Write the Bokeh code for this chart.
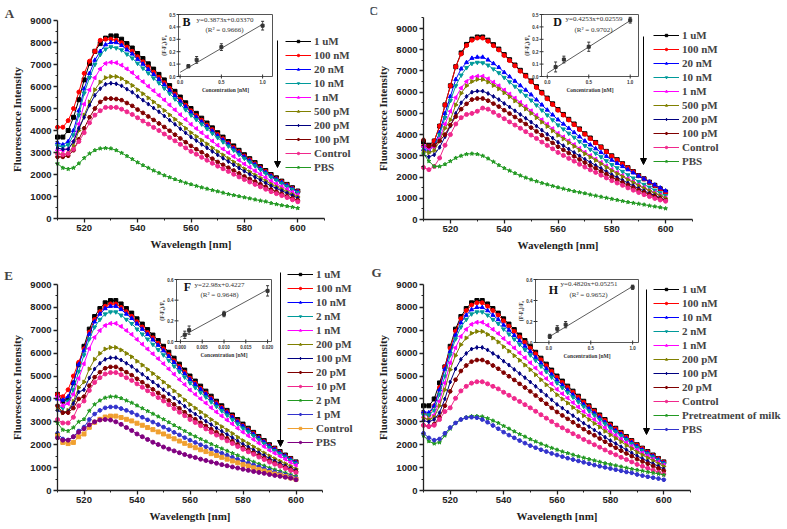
import math
from bokeh.plotting import figure
from bokeh.models import Range1d, LinearAxis, FixedTicker, Legend, LegendItem, Arrow, NormalHead, Label
from bokeh.layouts import row, column
from bokeh.embed import file_html
from bokeh.resources import INLINE
from bokeh.core.properties import value

# ---------------- data ----------------
wavelength = list(range(510, 601, 2))

x_major_ticks = [520, 540, 560, 580, 600]
x_minor_ticks = [510, 530, 550, 570, 590, 610]
y_major_ticks = [0, 1000, 2000, 3000, 4000, 5000, 6000, 7000, 8000, 9000]
y_minor_ticks = [500, 1500, 2500, 3500, 4500, 5500, 6500, 7500, 8500]
y_minor_ticks_c = [500, 1500, 2500, 3500, 4500, 5500, 6500, 7500, 8500, 9500]

# Panel A
A_labels = ["1 uM", "100 nM", "20 nM", "10 nM", "1 nM", "500 pM", "200 pM", "100 pM", "Control", "PBS"]
A_1uM = [3700,3700,4000,4600,5400, 6300,7050,7600,7950,8200,8300,8300,8150,7950,7750, 7500,7270,7030,6790,6550,6300,6040,5780,5520,5260, 5000,4780,4560,4340,4120,3900,3700,3500,3300,3100, 2900,2720,2540,2360,2180,2000,1850,1700,1550,1400, 1250]
A_100nM = [4150,4150,4450,5000,5750, 6600,7150,7600,8100,8150,8150,8100,7990,7790,7600, 7350,7120,6890,6650,6420,6170,5920,5660,5410,5150, 4900,4680,4470,4250,4040,3820,3630,3430,3230,3040, 2840,2670,2490,2310,2140,1960,1810,1670,1520,1370, 1230]
A_20nM = [3450,3350,3500,4000,4900, 5900,6600,7200,7600,7900,8000,8000,7870,7670,7480, 7240,7020,6780,6550,6320,6080,5830,5580,5330,5080, 4830,4610,4400,4190,3980,3760,3570,3380,3180,2990, 2800,2620,2450,2280,2100,1930,1790,1640,1500,1350, 1210]
A_10nM = [3300,3250,3350,3800,4700, 5700,6400,7000,7450,7700,7800,7750,7660,7470,7290, 7050,6830,6610,6380,6160,5920,5680,5430,5190,4940, 4700,4490,4290,4080,3870,3670,3480,3290,3100,2910, 2730,2560,2390,2220,2050,1880,1740,1600,1460,1320, 1180]
A_1nM = [3100,3100,3150,3500,4300, 5200,5850,6400,6800,7050,7100,7080,6970,6800,6630, 6410,6220,6010,5810,5600,5390,5160,4940,4720,4500, 4280,4090,3900,3710,3520,3330,3160,2990,2820,2650, 2480,2330,2170,2020,1860,1710,1580,1450,1330,1200, 1070]
A_500pM = [2950,2900,2950,3300,4000, 4700,5300,5850,6200,6400,6450,6450,6360,6200,6050, 5850,5670,5480,5300,5110,4910,4710,4510,4310,4100, 3900,3730,3560,3390,3210,3040,2890,2730,2570,2420, 2260,2120,1980,1840,1700,1560,1440,1330,1210,1090, 980]
A_200pM = [3200,3150,3150,3500,4100, 4600,5150,5600,5900,6100,6150,6120,6030,5880,5740, 5550,5380,5200,5020,4850,4660,4470,4280,4080,3890, 3700,3540,3370,3210,3050,2890,2740,2590,2440,2290, 2150,2010,1880,1750,1610,1480,1370,1260,1150,1040, 930]
A_100pM = [2800,2800,2850,3100,3600, 4100,4600,5000,5300,5450,5450,5430,5380,5250,5120, 4950,4800,4640,4480,4320,4160,3990,3810,3640,3470, 3300,3150,3010,2860,2720,2570,2440,2310,2180,2050, 1910,1800,1680,1560,1440,1320,1220,1120,1020,920, 830]
A_Control = [2950,2900,2950,3150,3500, 3900,4350,4700,4900,5050,5050,5050,4970,4850,4730, 4580,4430,4290,4140,4000,3840,3680,3530,3370,3210, 3050,2920,2780,2650,2510,2380,2260,2140,2010,1890, 1770,1660,1550,1440,1330,1220,1130,1040,950,850, 760]
A_PBS = [2500,2300,2250,2300,2500, 2750,2950,3100,3180,3200,3180,3100,2980,2840,2700, 2550,2420,2300,2180,2070,1960,1870,1780,1700,1620, 1550,1480,1410,1350,1290,1230,1170,1110,1060,1010, 960,910,860,810,770,700,650,600,560,520, 470]

# Panel C
C_labels = ["1 uM", "100 nM", "20 nM", "10 nM", "1 nM", "500 pM", "200 pM", "100 pM", "Control", "PBS"]
C_1uM = [3650,3500,3700,4400,5400, 6300,7200,7850,8250,8500,8600,8600,8450,8240,8030, 7770,7530,7280,7030,6790,6530,6260,5990,5720,5450, 5180,4950,4720,4500,4270,4040,3840,3630,3420,3210, 3000,2820,2630,2440,2260,2070,1920,1760,1610,1450, 1300]
C_100nM = [3450,3400,3700,4400,5400, 6300,7200,7800,8200,8450,8550,8550,8400,8190,7990, 7730,7490,7240,6990,6750,6490,6220,5950,5690,5420, 5150,4920,4690,4470,4240,4020,3810,3610,3400,3190, 2980,2800,2620,2430,2250,2060,1910,1750,1600,1440, 1250]
C_20nM = [3300,3250,3500,4100,5000, 5800,6600,7100,7400,7600,7650,7650,7520,7350,7170, 6930,6730,6520,6310,6100,5880,5640,5400,5160,4930, 4700,4500,4300,4100,3900,3700,3520,3340,3160,2980, 2800,2650,2500,2350,2200,2050,1910,1770,1630,1490, 1350]
C_10nM = [3400,3300,3450,4000,4800, 5600,6300,6800,7150,7350,7400,7380,7270,7090,6910, 6690,6480,6270,6050,5840,5620,5390,5150,4920,4690, 4450,4260,4060,3870,3670,3480,3300,3120,2950,2760, 2580,2430,2260,2100,1950,1780,1650,1520,1380,1250, 1120]
C_1nM = [3450,3350,3400,3800,4500, 5100,5750,6200,6500,6700,6750,6750,6630,6470,6300, 6100,5910,5720,5520,5330,5120,4910,4700,4490,4280, 4060,3890,3710,3530,3350,3170,3010,2850,2690,2520, 2360,2210,2070,1920,1780,1630,1510,1380,1260,1140, 1020]
C_500pM = [3200,3150,3250,3700,4300, 4700,5400,5950,6300,6500,6600,6600,6480,6320,6160, 5970,5780,5590,5400,5210,5010,4800,4590,4390,4180, 3970,3800,3620,3450,3270,3100,2940,2790,2630,2460, 2300,2160,2020,1870,1740,1590,1470,1350,1230,1120, 1000]
C_200pM = [3050,2950,3050,3400,3900, 4400,5000,5500,5800,6000,6050,6050,5940,5800,5650, 5470,5300,5120,4950,4770,4590,4400,4210,4020,3840, 3640,3480,3320,3160,3000,2840,2700,2550,2410,2260, 2110,1980,1850,1720,1590,1460,1350,1240,1130,1020, 910]
C_100pM = [3750,3450,3500,3700,4000, 4450,4850,5200,5450,5650,5700,5700,5600,5460,5320, 5150,4990,4830,4660,4500,4330,4150,3970,3790,3610, 3430,3280,3130,2980,2830,2680,2540,2410,2270,2130, 1990,1870,1740,1620,1500,1380,1280,1180,1080,980, 900]
C_Control = [2450,2350,2500,2900,3500, 4000,4500,4800,4950,5000,5100,5250,5200,5050,4900, 4750,4600,4450,4300,4140,3980,3820,3650,3490,3330, 3160,3020,2880,2750,2600,2470,2340,2220,2090,1960, 1830,1720,1610,1490,1380,1270,1170,1080,990,920, 860]
C_PBS = [3100,2750,2500,2500,2600, 2750,2900,3000,3080,3100,3080,3000,2870,2720,2560, 2420,2300,2180,2070,1970,1880,1800,1720,1650,1580, 1510,1450,1390,1330,1280,1230,1170,1120,1070,1020, 970,920,870,820,780,740,700,650,610,570, 520]

# Panel E
E_labels = ["1 uM", "100 nM", "10 nM", "2 nM", "1 nM", "200 pM", "100 pM", "20 pM", "10 pM", "2 pM", "1 pM", "Control", "PBS"]
E_1uM = [4200,3900,4000,4700,5500, 6300,7050,7600,7950,8200,8300,8300,8150,7950,7750, 7500,7270,7030,6790,6550,6300,6040,5780,5520,5260, 5000,4780,4560,4340,4120,3900,3700,3500,3300,3100, 2900,2720,2540,2360,2180,2000,1850,1700,1550,1400, 1250]
E_100nM = [4200,4100,4400,5000,5600, 6190,6920,7470,7810,8050,8150,8150,8000,7810,7610, 7370,7140,6900,6670,6430,6190,5930,5670,5420,5170, 4910,4690,4470,4260,4040,3830,3630,3440,3240,3040, 2840,2670,2490,2310,2140,1960,1820,1670,1520,1380, 1230]
E_10nM = [4000,3950,4100,4700,5500, 6110,6830,7370,7710,7950,8050,8050,7910,7710,7520, 7280,7050,6820,6580,6350,6110,5860,5600,5350,5100, 4850,4640,4420,4210,3990,3780,3590,3400,3200,3000, 2810,2640,2460,2290,2120,1940,1800,1650,1510,1360, 1220]
E_2nM = [3700,3600,3900,4400,5200, 5920,6620,7140,7470,7710,7800,7800,7660,7470,7290, 7050,6830,6610,6380,6150,5920,5680,5430,5190,4950, 4700,4490,4280,4080,3870,3670,3480,3290,3100,2910, 2720,2560,2390,2220,2050,1880,1740,1600,1460,1320, 1180]
E_1nM = [4100,3700,3800,4200,4900, 5540,6200,6690,6990,7210,7300,7300,7170,6990,6820, 6600,6390,6180,5970,5760,5540,5310,5080,4850,4630, 4390,4200,4010,3820,3620,3430,3260,3080,2910,2720, 2550,2390,2230,2070,1920,1760,1630,1500,1370,1230, 1100]
E_200pM = [3600,3400,3500,3900,4500, 4740,5310,5730,5990,6180,6250,6250,6140,5990,5840, 5650,5480,5290,5110,4930,4740,4550,4350,4160,3960, 3760,3600,3430,3270,3100,2940,2790,2640,2490,2330, 2180,2050,1910,1780,1640,1510,1390,1280,1170,1060, 940]
E_100pM = [3500,3400,3450,3800,4300, 4400,4920,5310,5560,5730,5800,5800,5700,5560,5420, 5240,5080,4910,4740,4580,4400,4220,4040,3860,3680, 3490,3340,3180,3030,2880,2730,2590,2450,2310,2160, 2020,1900,1770,1650,1530,1400,1290,1190,1080,980, 880]
E_20pM = [3700,3400,3400,3600,4000, 4100,4580,4950,5170,5340,5400,5400,5300,5170,5040, 4880,4730,4570,4420,4260,4100,3930,3760,3590,3420, 3250,3110,2960,2820,2680,2540,2410,2280,2150,2010, 1880,1770,1650,1530,1420,1300,1200,1110,1010,910, 820]
E_10pM = [3100,2950,2950,3200,3700, 3910,4370,4720,4930,5090,5150,5150,5060,4930,4810, 4660,4510,4360,4210,4060,3910,3750,3580,3420,3270, 3100,2970,2830,2690,2550,2420,2300,2170,2050,1920, 1800,1690,1580,1460,1350,1240,1150,1060,960,870, 780]
E_2pM = [2950,2650,2600,2750,3000, 3110,3480,3760,3930,4050,4100,4100,4030,3930,3830, 3710,3590,3470,3350,3230,3110,2980,2850,2730,2600, 2470,2360,2250,2140,2030,1930,1830,1730,1630,1530, 1430,1340,1250,1160,1080,990,910,840,770,690, 620]
E_1pM = [2500,2250,2200,2350,2600, 2770,3100,3340,3500,3610,3650,3650,3580,3500,3410, 3300,3200,3090,2990,2880,2770,2660,2540,2430,2310, 2200,2100,2000,1910,1810,1720,1630,1540,1450,1360, 1270,1200,1120,1040,960,880,810,750,680,620, 550]
E_Control = [2400,2100,2050,2100,2350, 2470,2760,2980,3110,3210,3250,3250,3190,3110,3040, 2940,2850,2750,2660,2560,2470,2370,2260,2160,2060, 1960,1870,1780,1700,1610,1530,1450,1370,1290,1210, 1130,1070,990,920,850,780,720,670,610,550, 490]
E_PBS = [2300,2200,2200,2350,2550, 2700,2870,3000,3080,3100,3080,3000,2890,2750,2620, 2470,2350,2230,2110,2010,1900,1810,1730,1650,1570, 1500,1440,1370,1310,1250,1190,1130,1080,1030,980, 930,880,830,790,750,700,660,620,580,540, 470]

# Panel G
G_labels = ["1 uM", "100 nM", "10 nM", "2 nM", "1 nM", "200 pM", "100 pM", "20 pM", "Control", "Pretreatment of milk", "PBS"]
G_1uM = [3700,3700,4000,4700,5400, 6300,7050,7600,7950,8200,8300,8300,8150,7950,7750, 7500,7270,7030,6790,6550,6300,6040,5780,5520,5260, 5000,4780,4560,4340,4120,3900,3700,3500,3300,3100, 2900,2720,2540,2360,2180,2000,1850,1700,1550,1400, 1250]
G_100nM = [3400,3300,3700,4500,5400, 6220,6960,7510,7860,8100,8200,8200,8050,7860,7660, 7410,7180,6950,6710,6470,6220,5970,5710,5450,5200, 4940,4720,4500,4290,4070,3850,3660,3460,3260,3060, 2860,2690,2510,2330,2160,1980,1830,1680,1530,1390, 1240]
G_10nM = [3450,3400,3700,4400,5300, 6070,6790,7330,7660,7900,8000,8000,7860,7660,7470, 7230,7010,6780,6540,6310,6070,5820,5570,5320,5070, 4820,4610,4390,4180,3970,3760,3570,3380,3180,2980, 2790,2620,2450,2270,2100,1930,1780,1640,1500,1350, 1210]
G_2nM = [3300,3300,3500,4200,5000, 5920,6620,7140,7470,7710,7800,7800,7660,7470,7290, 7050,6830,6610,6380,6150,5920,5680,5430,5190,4950, 4700,4490,4280,4080,3870,3670,3480,3290,3100,2910, 2720,2560,2390,2220,2050,1880,1740,1600,1460,1320, 1180]
G_1nM = [3200,3100,3300,3900,4700, 5580,6240,6730,7040,7260,7350,7350,7220,7040,6860, 6640,6440,6230,6010,5800,5580,5350,5120,4890,4660, 4420,4230,4040,3840,3650,3450,3280,3100,2930,2740, 2570,2410,2250,2090,1930,1770,1640,1510,1370,1240, 1110]
G_200pM = [3150,3100,3200,3700,4400, 5280,5900,6370,6660,6870,6950,6950,6820,6660,6490, 6280,6090,5890,5690,5480,5280,5060,4840,4620,4410, 4180,4000,3820,3630,3450,3270,3100,2930,2770,2590, 2430,2280,2130,1970,1830,1670,1550,1420,1300,1170, 1050]
G_100pM = [3050,3000,3100,3400,4000, 4740,5310,5730,5990,6180,6250,6250,6140,5990,5840, 5650,5480,5290,5110,4930,4740,4550,4350,4160,3960, 3760,3600,3430,3270,3100,2940,2790,2640,2490,2330, 2180,2050,1910,1780,1640,1510,1390,1280,1170,1060, 940]
G_20pM = [2850,2800,2900,3200,3700, 4330,4840,5220,5460,5630,5700,5700,5600,5460,5320, 5150,4990,4830,4660,4500,4330,4150,3970,3790,3610, 3430,3280,3130,2980,2830,2680,2540,2410,2270,2130, 1990,1870,1740,1620,1500,1370,1270,1170,1070,960, 860]
G_Control = [2850,2800,2850,3100,3450, 3610,4030,4350,4550,4690,4750,4750,4660,4550,4440, 4290,4160,4020,3890,3750,3610,3460,3310,3160,3010, 2860,2740,2610,2480,2360,2230,2120,2000,1890,1770, 1660,1560,1450,1350,1250,1140,1060,970,890,800, 720]
G_Pretreat = [2400,2150,2050,2100,2400, 2700,2950,3100,3200,3250,3250,3230,3150,3050,2950, 2820,2700,2580,2460,2350,2240,2140,2040,1950,1860, 1780,1700,1630,1560,1490,1430,1370,1310,1250,1190, 1140,1090,1040,990,940,900,860,810,770,730, 680]
G_PBS = [2500,2300,2200,2250,2500, 2750,2950,3100,3180,3200,3180,3100,2980,2840,2700, 2550,2420,2300,2180,2070,1960,1870,1780,1700,1620, 1550,1480,1410,1350,1290,1230,1170,1110,1060,1010, 960,910,860,810,770,700,650,600,560,520, 470]

# Insets (calibration)
B_conc = [0.1, 0.2, 0.5, 1.0]
B_resp = [0.083, 0.134, 0.237, 0.41]
B_err = [0.012, 0.027, 0.027, 0.035]
B_fit_x = [0.0, 1.0]
B_fit_y = [0.034, 0.421]
D_conc = [0.1, 0.2, 0.5, 1.0]
D_resp = [0.077, 0.137, 0.24, 0.454]
D_err = [0.04, 0.027, 0.037, 0.023]
D_fit_x = [0.0, 1.0]
D_fit_y = [0.026, 0.451]
F_conc = [0.001, 0.002, 0.01, 0.02]
F_resp = [0.065, 0.11, 0.266, 0.49]
F_err = [0.035, 0.04, 0.026, 0.05]
F_fit_x = [0.0, 0.02]
F_fit_y = [0.042, 0.502]
H_conc = [0.01, 0.1, 0.2, 1.0]
H_resp = [0.058, 0.13, 0.17, 0.526]
H_err = [0.02, 0.03, 0.03, 0.02]
H_fit_x = [0.0, 1.0]
H_fit_y = [0.0525, 0.5345]

ticks_01 = [0.0, 0.5, 1.0]
ticks_01_labels = ["0.0", "0.5", "1.0"]
ticks_05 = [0.0, 0.1, 0.2, 0.3, 0.4, 0.5]
ticks_05_labels = ["0.0", "0.1", "0.2", "0.3", "0.4", "0.5"]
ticks_06 = [0.0, 0.2, 0.4, 0.6]
ticks_06_labels = ["0.0", "0.2", "0.4", "0.6"]
ticks_002 = [0.0, 0.005, 0.01, 0.015, 0.02]
ticks_002_labels = ["0.000", "0.005", "0.010", "0.015", "0.020"]

# ---------------- styles ----------------
BLACK, RED, BLUE, TEAL = "#000000", "#ff0000", "#0000ff", "#009a9a"
MAGENTA, OLIVE, NAVY, WINE = "#ff00ff", "#808000", "#000080", "#800000"
PINK, GREEN, ROYAL, ORANGE, PURPLE = "#f0288c", "#229922", "#3333cc", "#f0a030", "#800080"
L, R = math.pi / 2, -math.pi / 2
base_styles = [(BLACK, "square", 0), (RED, "circle", 0), (BLUE, "triangle", 0), (TEAL, "inverted_triangle", 0),
               (MAGENTA, "triangle", L), (OLIVE, "triangle", R), (NAVY, "diamond", 0), (WINE, "hex", 0)]
A_styles = base_styles + [(PINK, "circle", 0), (GREEN, "star", 0)]
E_styles = base_styles + [(PINK, "circle", 0), (GREEN, "star", 0), (ROYAL, "hex", 0), (ORANGE, "square", 0), (PURPLE, "circle", 0)]
G_styles = base_styles + [(PINK, "circle", 0), (GREEN, "star", 0), (ROYAL, "hex", 0)]

SERIF = "Liberation Serif"
SANS = "Liberation Sans"
INK = "#222222"
PITCH = 14


class Geo:
    """Pixel geometry of one panel (picture coordinates)."""
    def __init__(self, ox, oy, W, H, px510, kx, py0, ky):
        self.ox, self.oy, self.W, self.H = ox, oy, W, H
        self.px510, self.kx, self.py0, self.ky = px510, kx, py0, ky

    def dx(self, px):
        return 510 + (px - self.px510) / self.kx

    def dy(self, py):
        return (self.py0 - py) / self.ky

    def fx(self, px):
        return px - self.ox

    def fy(self, py):
        return self.oy + self.H - py


def make_panel(g, y_bound, yminor, labels, data, styles, leg_pos, arrow, letter, letter_pos):
    p = figure(width=g.W, height=g.H,
               x_range=Range1d(g.dx(g.ox), g.dx(g.ox + g.W)),
               y_range=Range1d(g.dy(g.oy + g.H), g.dy(g.oy)),
               x_axis_type=None, y_axis_type=None, output_backend="svg", toolbar_location=None,
               min_border=0, min_border_left=0, min_border_right=0, min_border_top=0, min_border_bottom=0)
    p.outline_line_color = None
    p.background_fill_color = "white"
    p.border_fill_color = "white"

    xa = LinearAxis(ticker=FixedTicker(ticks=x_major_ticks, minor_ticks=x_minor_ticks),
                    bounds=(510, 610), axis_label="Wavelength [nm]", fixed_location=0)
    ya = LinearAxis(ticker=FixedTicker(ticks=y_major_ticks, minor_ticks=yminor),
                    bounds=(0, y_bound), axis_label="Fluorescence Intensity", fixed_location=510)
    for ax in (xa, ya):
        ax.axis_line_width = 1.3
        ax.axis_line_color = INK
        ax.major_tick_line_width = 1.3
        ax.major_tick_line_color = INK
        ax.minor_tick_line_width = 1
        ax.minor_tick_line_color = INK
        ax.major_tick_out = 4
        ax.major_tick_in = 0
        ax.minor_tick_out = 2
        ax.minor_tick_in = 0
        ax.major_label_text_font = SANS
        ax.major_label_text_font_style = "bold"
        ax.major_label_text_font_size = "9.5px"
        ax.major_label_text_color = INK
        ax.major_label_standoff = 2
        ax.axis_label_text_font = SERIF
        ax.axis_label_text_font_style = "bold"
        ax.axis_label_text_font_size = "11px"
        ax.axis_label_text_color = INK
        ax.axis_label_standoff = 4
    p.add_layout(xa, "below")
    p.add_layout(ya, "left")

    items = []
    for lab, ys, (col, mk, ang) in zip(labels, data, styles):
        r1 = p.line(wavelength, ys, line_color=col, line_width=1)
        r2 = p.scatter(wavelength, ys, marker=mk, size=4, fill_color=col, line_color=col, angle=ang)
        items.append(LegendItem(label=lab, renderers=[r1, r2]))
    n = len(labels)
    lx, first_y = leg_pos
    bottom = first_y - PITCH / 2 + n * PITCH
    leg = Legend(items=items, location=(g.fx(lx), g.fy(bottom)), glyph_width=26, glyph_height=6,
                 label_height=PITCH, spacing=0, padding=0, margin=0, label_standoff=3,
                 border_line_alpha=0, background_fill_alpha=0,
                 label_text_font=SERIF, label_text_font_style="bold", label_text_font_size="11px",
                 label_text_line_height=1.0)
    p.add_layout(leg)

    apx, apy0, apy1 = arrow
    p.add_layout(Arrow(end=NormalHead(size=6, line_color="black", fill_color="black"),
                       x_start=g.dx(apx), y_start=g.dy(apy0), x_end=g.dx(apx), y_end=g.dy(apy1),
                       line_width=1, line_color="black"))
    p.add_layout(Label(x=g.fx(letter_pos[0]), y=g.fy(letter_pos[1]), x_units="screen", y_units="screen",
                       text=letter, text_font=SERIF, text_font_style="bold", text_font_size="13px",
                       text_align="center", text_baseline="middle"))
    return p


def add_inset(p, g, box, xr, yr, conc, resp, err, fit_x, fit_y, xt, xtl, yt, ytl,
              letter, letter_pos, eq1, eq1_pos, eq2, eq2_pos):
    fx0, fx1, fy0, fy1 = g.ox, g.ox + g.W, g.oy, g.oy + g.H
    bx0, bx1, by0, by1 = box
    ix0, ix1 = xr
    iy0, iy1 = yr
    sx = (ix1 - ix0) / (bx1 - bx0)
    sy = (iy1 - iy0) / (by1 - by0)
    p.extra_x_ranges["ix"] = Range1d(ix0 - (bx0 - fx0) * sx, ix1 + (fx1 - bx1) * sx)
    p.extra_y_ranges["iy"] = Range1d(iy0 - (fy1 - by1) * sy, iy1 + (by0 - fy0) * sy)
    kw = dict(x_range_name="ix", y_range_name="iy")
    ink = "#333333"
    p.quad(left=[ix0], right=[ix1], bottom=[iy0], top=[iy1], fill_color="white",
           line_color="#555555", line_width=1, **kw)
    p.scatter(xt, [iy0] * len(xt), marker="dash", size=4, angle=math.pi / 2, line_color=ink, **kw)
    p.scatter([ix0] * len(yt), yt, marker="dash", size=4, line_color=ink, **kw)
    p.text(xt, [iy0] * len(xt), text=xtl, text_align="center", text_baseline="top", y_offset=3,
           text_font=value(SANS), text_font_style="bold", text_font_size="4.5px", text_color=ink, **kw)
    p.text([ix0] * len(yt), yt, text=ytl, text_align="right", text_baseline="middle", x_offset=-3,
           text_font=value(SANS), text_font_style="bold", text_font_size="4.5px", text_color=ink, **kw)
    p.text([(ix0 + ix1) / 2], [iy0], text=["Concentration [nM]"], text_align="center", text_baseline="top",
           y_offset=10, text_font=value(SERIF), text_font_style="bold", text_font_size="5.5px",
           text_color=ink, **kw)
    p.text([ix0], [(iy0 + iy1) / 2], text=["(F-F\u2080)/F\u2080"], angle=math.pi / 2, text_align="center",
           text_baseline="bottom", x_offset=-12, text_font=value(SERIF), text_font_style="bold",
           text_font_size="5.5px", text_color=ink, **kw)
    lo = [r - e for r, e in zip(resp, err)]
    hi = [r + e for r, e in zip(resp, err)]
    p.segment(conc, lo, conc, hi, line_color=ink, line_width=0.8, **kw)
    p.scatter(conc + conc, lo + hi, marker="dash", size=3, line_color=ink, **kw)
    p.line(fit_x, fit_y, line_color=ink, line_width=0.8, **kw)
    p.scatter(conc, resp, marker="square", size=3, fill_color=ink, line_color=ink, **kw)
    p.text([ix0], [iy1], text=[letter], text_align="center", text_baseline="middle",
           x_offset=letter_pos[0] - bx0, y_offset=letter_pos[1] - by0,
           text_font=value(SERIF), text_font_style="bold", text_font_size="12px", text_color="#111111", **kw)
    p.text([ix0], [iy1], text=[eq1], text_align="left", text_baseline="middle",
           x_offset=eq1_pos[0] - bx0, y_offset=eq1_pos[1] - by0,
           text_font=value(SERIF), text_font_size="7px", text_color=ink, **kw)
    p.text([ix0], [iy1], text=[eq2], text_align="center", text_baseline="middle",
           x_offset=eq2_pos[0] - bx0, y_offset=eq2_pos[1] - by0,
           text_font=value(SERIF), text_font_size="7px", text_color=ink, **kw)


# Panel A
gA = Geo(0, 0, 370, 260, 57, 2.67, 218, 198 / 9000)
pA = make_panel(gA, 9000, y_minor_ticks, A_labels,
                [A_1uM, A_100nM, A_20nM, A_10nM, A_1nM, A_500pM, A_200pM, A_100pM, A_Control, A_PBS],
                A_styles, (285, 41), (277, 40, 167), "A", (9, 13))
add_inset(pA, gA, (178, 272, 14, 76), (-0.02, 1.12), (0, 0.5),
          B_conc, B_resp, B_err, B_fit_x, B_fit_y, ticks_01, ticks_01_labels, ticks_05, ticks_05_labels,
          "B", (186, 21), "y=0.3873x+0.03370", (196, 19), "(R\u00b2 = 0.9666)", (224, 29))

# Panel C
gC = Geo(370, 0, 415, 260, 423, 2.69, 219, 191 / 9000)
pC = make_panel(gC, 9500, y_minor_ticks_c, C_labels,
                [C_1uM, C_100nM, C_20nM, C_10nM, C_1nM, C_500pM, C_200pM, C_100pM, C_Control, C_PBS],
                A_styles, (653, 35), (643, 36, 164), "C", (373, 10))
add_inset(pC, gC, (541, 638, 14, 76), (-0.07, 1.1), (0, 0.5),
          D_conc, D_resp, D_err, D_fit_x, D_fit_y, ticks_01, ticks_01_labels, ticks_05, ticks_05_labels,
          "D", (557, 21), "y=0.4253x+0.02559", (565, 18), "(R\u00b2 = 0.9702)", (593, 29))

# Panel E
gE = Geo(0, 260, 370, 267, 57, 2.65, 490, 206 / 9000)
pE = make_panel(gE, 9000, y_minor_ticks, E_labels,
                [E_1uM, E_100nM, E_10nM, E_2nM, E_1nM, E_200pM, E_100pM, E_20pM, E_10pM, E_2pM, E_1pM, E_Control, E_PBS],
                E_styles, (287, 274), (280, 272, 446), "E", (8, 275))
add_inset(pE, gE, (176, 271, 279, 341), (-0.0009, 0.0209), (0, 0.6),
          F_conc, F_resp, F_err, F_fit_x, F_fit_y, ticks_002, ticks_002_labels, ticks_06, ticks_06_labels,
          "F", (187, 286), "y=22.98x+0.4227", (194, 284), "(R\u00b2 = 0.9648)", (219, 294))

# Panel G
gG = Geo(370, 260, 415, 267, 423, 2.67, 490, 206 / 9000)
pG = make_panel(gG, 9000, y_minor_ticks, G_labels,
                [G_1uM, G_100nM, G_10nM, G_2nM, G_1nM, G_200pM, G_100pM, G_20pM, G_Control, G_Pretreat, G_PBS],
                G_styles, (653, 289), (646, 289, 434), "G", (376, 272))
add_inset(pG, gG, (535, 638, 279, 342), (-0.16, 1.07), (0, 0.6),
          H_conc, H_resp, H_err, H_fit_x, H_fit_y, ticks_01, ticks_01_labels, ticks_06, ticks_06_labels,
          "H", (553, 289), "y=0.4820x+0.05251", (560, 283), "(R\u00b2 = 0.9652)", (588, 294))

layout = column(row(pA, pC), row(pE, pG))
open("out.html", "w").write(file_html(layout, INLINE))
